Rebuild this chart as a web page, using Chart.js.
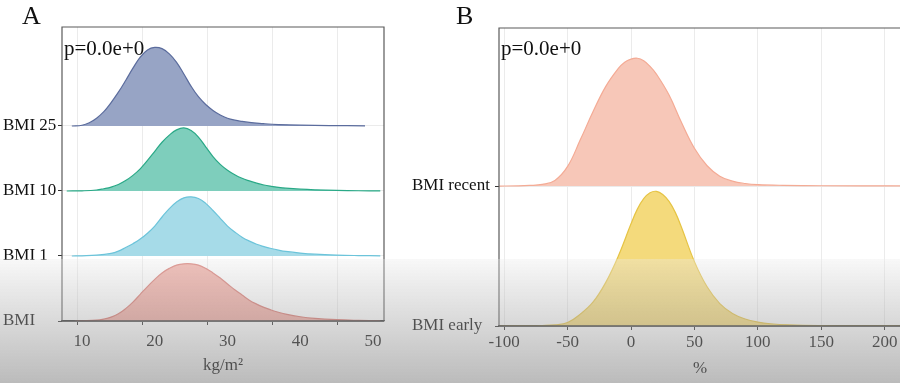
<!DOCTYPE html>
<html><head><meta charset="utf-8">
<script src="https://cdn.jsdelivr.net/npm/chart.js@4.4.0/dist/chart.umd.min.js"></script>
<style>
html,body{margin:0;padding:0;background:#fff;overflow:hidden;width:900px;height:383px;}
#ca{position:absolute;left:0;top:0;}
#cb{position:absolute;left:400px;top:0;}
#shade{position:absolute;left:0;top:259px;width:900px;height:124px;pointer-events:none;
background:linear-gradient(to bottom, rgba(235,235,235,0.35), rgba(120,120,120,0.5));}
</style></head>
<body>
<canvas id="ca" width="400" height="383"></canvas>
<canvas id="cb" width="501" height="383"></canvas>
<div id="shade"></div>
<script>
// ---------- Panel A data ----------
const leftCategories = ['BMI', 'BMI 1', 'BMI 10', 'BMI 25'];
const leftTickValues = [10, 20, 30, 40, 50];
const leftTickLabels = ['10', '20', '30', '40', '50'];

const bmi25X = [8.6, 10, 11, 12, 13, 14, 15, 16, 17, 18, 19, 20, 21, 22, 23, 24, 25, 26, 27, 28, 29, 30, 31, 32, 33, 34, 35, 37, 40, 44, 48.9];
const bmi25Y = [0, 0.012, 0.05, 0.12, 0.22, 0.36, 0.52, 0.70, 0.89, 1.06, 1.17, 1.21, 1.19, 1.11, 0.98, 0.80, 0.61, 0.45, 0.33, 0.24, 0.17, 0.12, 0.09, 0.07, 0.055, 0.045, 0.035, 0.022, 0.012, 0.006, 0.003];

const bmi10X = [7.9, 10, 12, 13, 14, 15, 16, 17, 18, 19, 20, 21, 22, 23, 24, 25, 26, 27, 28, 29, 30, 31, 32, 33, 34, 35, 36, 37, 38, 40, 42, 45, 48, 51];
const bmi10Y = [0, 0.003, 0.015, 0.035, 0.06, 0.10, 0.16, 0.24, 0.34, 0.47, 0.61, 0.75, 0.86, 0.94, 0.97, 0.93, 0.83, 0.68, 0.53, 0.41, 0.32, 0.25, 0.195, 0.155, 0.12, 0.092, 0.072, 0.056, 0.044, 0.028, 0.018, 0.009, 0.004, 0.002];

const bmi1X = [8.6, 10, 12, 14, 15, 16, 17, 18, 19, 20, 21, 22, 23, 24, 25, 26, 27, 28, 29, 30, 31, 32, 33, 34, 35, 36, 37, 38, 40, 42, 45, 48, 51];
const bmi1Y = [0, 0.003, 0.012, 0.04, 0.075, 0.13, 0.19, 0.26, 0.35, 0.46, 0.60, 0.73, 0.83, 0.895, 0.91, 0.885, 0.81, 0.70, 0.58, 0.46, 0.37, 0.29, 0.23, 0.18, 0.145, 0.115, 0.09, 0.07, 0.045, 0.028, 0.014, 0.007, 0.003];

const bmiX = [9, 10, 12, 13, 14, 15, 16, 17, 18, 19, 20, 21, 22, 23, 24, 25, 26, 27, 28, 29, 30, 31, 32, 33, 34, 35, 36, 37, 38, 40, 42, 45, 48, 51];
const bmiY = [0, 0.003, 0.012, 0.03, 0.06, 0.11, 0.19, 0.29, 0.41, 0.53, 0.64, 0.74, 0.81, 0.86, 0.88, 0.88, 0.86, 0.81, 0.74, 0.66, 0.57, 0.48, 0.40, 0.32, 0.26, 0.21, 0.17, 0.135, 0.105, 0.065, 0.04, 0.02, 0.01, 0.004];

// ---------- Panel B data ----------
const rightCategories = ['BMI early', 'BMI recent'];
const rightTickValues = [-100, -50, 0, 50, 100, 150, 200];
const rightTickLabels = ['-100', '-50', '0', '50', '100', '150', '200'];

const recentX = [-104, -90, -80, -70, -60, -50, -40, -30, -20, -10, -5, 0, 5, 10, 15, 20, 30, 40, 50, 60, 70, 80, 90, 100, 120, 150, 213];
const recentY = [0, 0.001, 0.004, 0.012, 0.04, 0.14, 0.33, 0.53, 0.71, 0.84, 0.885, 0.907, 0.913, 0.895, 0.855, 0.80, 0.65, 0.45, 0.27, 0.145, 0.07, 0.035, 0.018, 0.01, 0.005, 0.002, 0.001];

const earlyX = [-104, -80, -70, -60, -50, -40, -30, -20, -10, 0, 5, 10, 15, 20, 25, 30, 35, 40, 50, 60, 70, 80, 90, 100, 110, 125, 150, 180, 213];
const earlyY = [0, 0.001, 0.003, 0.008, 0.025, 0.085, 0.17, 0.31, 0.50, 0.73, 0.835, 0.91, 0.952, 0.962, 0.94, 0.89, 0.81, 0.70, 0.46, 0.28, 0.16, 0.09, 0.05, 0.028, 0.016, 0.008, 0.003, 0.001, 0.0005];

const pText = 'p=0.0e+0';

Chart.defaults.font.family = '"Liberation Serif", "Times New Roman", serif';
Chart.defaults.color = '#1a1a1a';

function ridge(xs, ys, base, line, fill) {
  return {
    data: xs.map((x, i) => ({ x: x, y: base + ys[i] })),
    borderColor: line, backgroundColor: fill, fill: { value: base },
    borderWidth: 1.2, pointRadius: 0, tension: 0.4,
    xAxisID: 'x', yAxisID: 'y'
  };
}

const framePlugin = {
  id: 'frame',
  afterDatasetsDraw(chart) {
    const { left, top, right, bottom } = chart.chartArea;
    const ctx = chart.ctx;
    ctx.save();
    ctx.strokeStyle = '#5a5a5a'; ctx.lineWidth = 1.2;
    ctx.beginPath();
    ctx.moveTo(left, bottom); ctx.lineTo(left, top); ctx.lineTo(right, top); ctx.lineTo(right, bottom);
    ctx.stroke();
    ctx.strokeStyle = '#333'; ctx.lineWidth = 1.4;
    ctx.beginPath(); ctx.moveTo(left, bottom); ctx.lineTo(right, bottom); ctx.stroke();
    ctx.restore();
  }
};

const textPlugin = {
  id: 'panelText',
  afterDraw(chart, args, opts) {
    const ctx = chart.ctx;
    const ca = chart.chartArea;
    ctx.save();
    ctx.fillStyle = '#111';
    ctx.textBaseline = 'alphabetic';
    ctx.textAlign = 'left';
    ctx.font = '26px "Liberation Serif", serif';
    ctx.fillText(opts.letter, opts.letterX, opts.letterY);
    ctx.font = '21px "Liberation Serif", serif';
    ctx.fillText(opts.p, ca.left + 2, ca.top + opts.pDy);
    ctx.restore();
  }
};

const commonPlugins = { legend: { display: false }, tooltip: { enabled: false } };

new Chart(document.getElementById('ca'), {
  type: 'line',
  data: {
    datasets: [
      ridge(bmi25X, bmi25Y, 3, '#5b6c9d', '#97a4c5'),
      ridge(bmi10X, bmi10Y, 2, '#2aa987', '#7ecebc'),
      ridge(bmi1X, bmi1Y, 1, '#6cc4da', '#a6dbe8'),
      ridge(bmiX, bmiY, 0, '#d8756d', '#f0aaa1')
    ]
  },
  options: {
    responsive: false, animation: false, events: [],
    layout: { padding: { left: 3, top: 27, right: 16, bottom: 0 } },
    plugins: Object.assign({}, commonPlugins, {
      panelText: { letter: 'A', letterX: 22, letterY: 24, p: pText, pDy: 28 }
    }),
    scales: {
      xg: {
        type: 'linear', position: 'bottom', weight: 0, min: 7.69, max: 57.23,
        afterBuildTicks: s => { s.ticks = leftTickValues.map(v => ({ value: v })); },
        grid: { color: '#ebebeb', tickColor: '#333', tickLength: 4, lineWidth: 1 },
        border: { color: '#333', width: 1.3 },
        ticks: { display: false }
      },
      x: {
        type: 'linear', position: 'bottom', weight: 1, min: 7.25, max: 51.51,
        afterBuildTicks: s => { s.ticks = leftTickValues.map(v => ({ value: v })); },
        afterFit: s => { s.height = 58; },
        grid: { display: false, drawTicks: false }, border: { display: false },
        ticks: { padding: 6, font: { size: 17 }, color: '#1a1a1a', maxRotation: 0,
          callback: (v, i) => leftTickLabels[i] },
        title: { display: true, text: 'kg/m²', font: { size: 17 }, color: '#1a1a1a', padding: { top: 0, bottom: 7 } }
      },
      y: {
        type: 'linear', min: 0, max: 4.523,
        afterBuildTicks: s => { s.ticks = leftCategories.map((c, i) => ({ value: i })); },
        afterFit: s => { s.width = 59; },
        grid: { color: '#ebebeb', tickColor: '#333', tickLength: 4 },
        border: { display: false },
        ticks: { crossAlign: 'far', padding: 0, font: { size: 17 }, color: '#111',
          callback: (v) => leftCategories[v] }
      }
    }
  },
  plugins: [framePlugin, textPlugin]
});

new Chart(document.getElementById('cb'), {
  type: 'line',
  data: {
    datasets: [
      ridge(recentX, recentY, 1, '#f4ab95', '#f7c7b8'),
      ridge(earlyX, earlyY, 0, '#e6c445', '#f4da7c')
    ]
  },
  options: {
    responsive: false, animation: false, events: [],
    layout: { padding: { left: 12, top: 28, right: 0, bottom: 0 } },
    plugins: Object.assign({}, commonPlugins, {
      panelText: { letter: 'B', letterX: 56, letterY: 24, p: pText, pDy: 27 }
    }),
    scales: {
      x: {
        type: 'linear', position: 'bottom', min: -104.1, max: 212.9,
        afterBuildTicks: s => { s.ticks = rightTickValues.map(v => ({ value: v })); },
        afterFit: s => { s.height = 57; },
        grid: { color: '#ebebeb', tickColor: '#333', tickLength: 4, lineWidth: 1 },
        border: { color: '#333', width: 1.3 },
        ticks: { padding: 2, font: { size: 17 }, color: '#1a1a1a', maxRotation: 0,
          callback: (v, i) => rightTickLabels[i] },
        title: { display: true, text: '%', font: { size: 17 }, color: '#1a1a1a', padding: { top: 0, bottom: 4 } }
      },
      y: {
        type: 'linear', min: 0, max: 2.129,
        afterBuildTicks: s => { s.ticks = rightCategories.map((c, i) => ({ value: i })); },
        afterFit: s => { s.width = 87; },
        grid: { color: '#ebebeb', tickColor: '#333', tickLength: 4 },
        border: { display: false },
        ticks: { crossAlign: 'far', padding: 0, font: { size: 17 }, color: '#111',
          callback: (v) => rightCategories[v] }
      }
    }
  },
  plugins: [framePlugin, textPlugin]
});
</script>
</body></html>
